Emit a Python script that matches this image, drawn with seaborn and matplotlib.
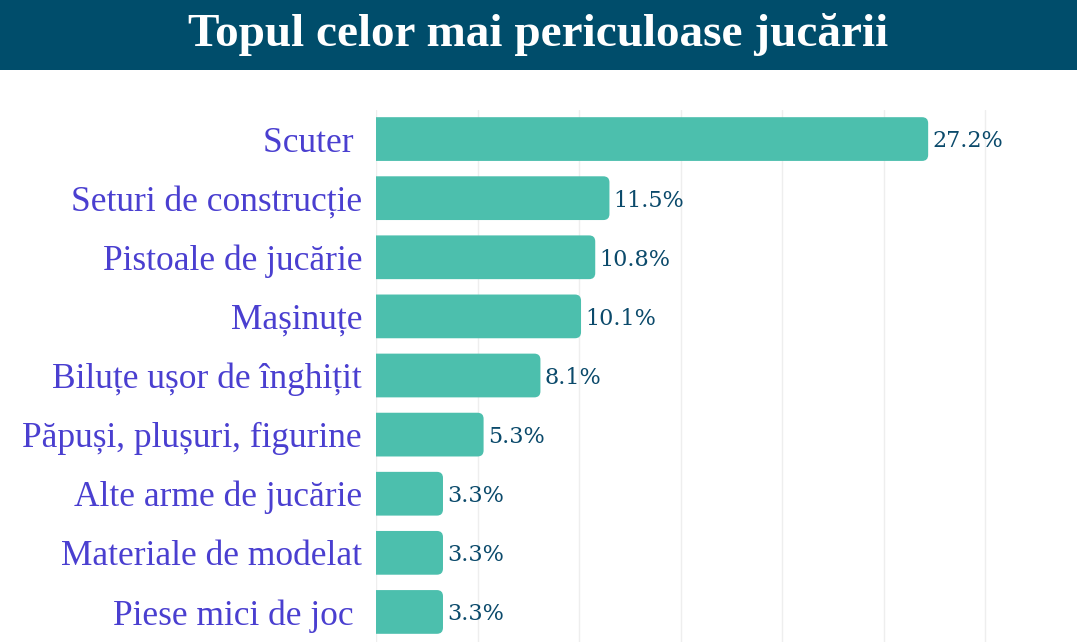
import matplotlib
matplotlib.use("Agg")
import matplotlib.pyplot as plt
from matplotlib.patches import FancyBboxPatch
import pandas as pd
import seaborn as sns

# Data
categories = [
    "Scuter ",
    "Seturi de construcție",
    "Pistoale de jucărie",
    "Mașinuțe",
    "Biluțe ușor de înghițit",
    "Păpuși, plușuri, figurine",
    "Alte arme de jucărie",
    "Materiale de modelat",
    "Piese mici de joc ",
]
shares = [27.2, 11.5, 10.8, 10.1, 8.1, 5.3, 3.3, 3.3, 3.3]
value_labels = ["27.2%", "11.5%", "10.8%", "10.1%", "8.1%", "5.3%", "3.3%", "3.3%", "3.3%"]
title = "Topul celor mai periculoase jucării"

df = pd.DataFrame({"categorie": categories, "procent": shares})

bar_color = "#4cbfad"
label_color = "#4a3fd0"
value_color = "#0b4a6b"
banner_color = "#004d6b"

sns.set_theme(style="white")

fig = plt.figure(figsize=(10.77, 6.43), dpi=100)
ax = fig.add_axes([376 / 1077, 1 - 641.5 / 643, (1077 - 376) / 1077, 532 / 643])

sns.barplot(data=df, x="procent", y="categorie", color=bar_color, width=0.74,
            saturation=1, ax=ax, orient="h")

# swap plain rectangles for rounded ones
x_px = 20.3
y_px = 59.1
for p in list(ax.patches):
    x0, y0 = p.get_x(), p.get_y()
    w, h = p.get_width(), p.get_height()
    p.remove()
    fb = FancyBboxPatch((x0 - 0.4, y0), w + 0.4, h,
                        boxstyle="round,pad=0,rounding_size=0.3",
                        mutation_aspect=x_px / y_px,
                        facecolor=bar_color, edgecolor="none", zorder=2)
    ax.add_patch(fb)

for i, (v, lab) in enumerate(zip(shares, value_labels)):
    ax.text(v + 0.2, i + 0.04, lab, va="center", ha="left", fontsize=16,
            family="DejaVu Serif", color=value_color)

ax.set_xlim(0, (1077 - 376) / x_px)
ax.set_ylim(8.5, -0.5)
ax.set_xticks([0, 5, 10, 15, 20, 25, 30])
ax.set_xticklabels([])
ax.tick_params(axis="x", length=0)
ax.tick_params(axis="y", length=0, pad=10)
ax.grid(axis="x", color="#eeeeee", linewidth=1)
ax.set_axisbelow(True)
for s in ax.spines.values():
    s.set_visible(False)
ax.set_xlabel("")
ax.set_ylabel("")
for t in ax.get_yticklabels():
    t.set_family("Liberation Serif")
    t.set_fontsize(25.5)
    t.set_color(label_color)

# title banner
fig.patches.append(plt.Rectangle((0, 1 - 70 / 643), 1, 70 / 643, transform=fig.transFigure,
                                 facecolor=banner_color, edgecolor="none", zorder=0))
fig.text(0.5, 1 - 35 / 643, title, ha="center", va="center", color="white",
         fontsize=34, fontweight="bold", family="Liberation Serif")

fig.savefig("out.png", dpi=100)
